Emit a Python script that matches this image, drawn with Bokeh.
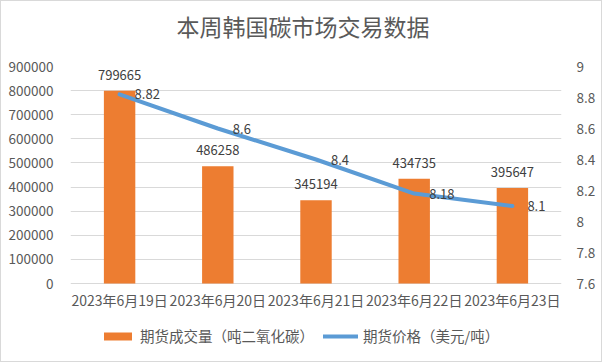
from bokeh.plotting import figure
from bokeh.models import (ColumnDataSource, LinearAxis, Range1d, FixedTicker,
                          CustomJSTickFormatter, NumeralTickFormatter, Legend,
                          LegendItem, FactorRange, Title)
from bokeh.core.properties import value
from bokeh.embed import file_html
from bokeh.resources import INLINE

title_text = "本周韩国碳市场交易数据"
dates = ["2023年6月19日", "2023年6月20日", "2023年6月21日", "2023年6月22日", "2023年6月23日"]
volume = [799665, 486258, 345194, 434735, 395647]
price = [8.82, 8.6, 8.4, 8.18, 8.1]
vol_ticks = [0, 100000, 200000, 300000, 400000, 500000, 600000, 700000, 800000, 900000]
price_ticks = [7.6, 7.8, 8.0, 8.2, 8.4, 8.6, 8.8, 9.0]
vol_name = "期货成交量（吨二氧化碳）"
price_name = "期货价格（美元/吨）"

FONT = "Noto Sans CJK SC"
GRAY = "#595959"
DARK = "#404040"

# layout (pixels)
W, H = 602, 362
TOP, LEFT, RIGHT = 65, 69, 42
PLOT_H = 217          # height of the value area (0 .. max)
EXTRA = H - TOP - PLOT_H  # room under the value area for category labels + legend
TITLE_SIZE = 23

vmin, vmax = vol_ticks[0], vol_ticks[-1]
pmin, pmax = price_ticks[0], price_ticks[-1]
v_low = vmin - (vmax - vmin) * EXTRA / PLOT_H
p_low = pmin - (pmax - pmin) * EXTRA / PLOT_H

src = ColumnDataSource(dict(
    date=dates, volume=volume, price=price,
    base=[vmin] * len(dates),
    vol_label=[str(v) for v in volume],
    price_label=[f"{v:g}" for v in price],
))

p = figure(width=W, height=H,
           x_range=FactorRange(*dates),
           y_range=Range1d(v_low, vmax),
           output_backend="svg", toolbar_location=None,
           min_border_left=LEFT, min_border_right=RIGHT,
           min_border_top=TOP, min_border_bottom=0)
p.extra_y_ranges = {"price": Range1d(p_low, pmax)}

# spacer then title (stacked outward from the frame)
spacer = Title(text=" ", text_font_size="7px", text_color="white")
p.add_layout(spacer, "above")
title_w = len(title_text) * TITLE_SIZE
main_title = Title(text=title_text, align="left", text_font=FONT,
                   text_font_size=f"{TITLE_SIZE}px", text_font_style="normal",
                   text_color=GRAY, offset=round(W / 2 - title_w / 2 - LEFT))
p.add_layout(main_title, "above")

p.outline_line_color = None
p.styles = {"border": "1px solid #d9d9d9", "box-sizing": "border-box"}

bars = p.vbar(x="date", top="volume", bottom="base", width=0.32, source=src,
              fill_color="#ED7D31", line_color=None)
line = p.line(x="date", y="price", y_range_name="price", source=src,
              line_color="#5B9BD5", line_width=4, line_cap="round", line_join="round")

p.text(x="date", y="volume", text="vol_label", source=src,
       text_align="center", text_baseline="bottom", y_offset=-11,
       text_font=value(FONT), text_font_size="13px", text_color=DARK)
p.text(x="date", y="price", text="price_label", source=src, y_range_name="price",
       text_align="left", text_baseline="middle", x_offset=15,
       text_font=value(FONT), text_font_size="13px", text_color=DARK)

# category labels under the baseline
p.text(x="date", y="base", text="date", source=src,
       text_align="center", text_baseline="middle", y_offset=16,
       text_font=value(FONT), text_font_size="14px", text_color=GRAY)

# grid
p.xgrid.grid_line_color = None
p.ygrid.ticker = FixedTicker(ticks=vol_ticks)
p.ygrid.grid_line_color = "#d9d9d9"
p.ygrid.grid_line_width = 1

p.xaxis.visible = False

# left axis
ly = p.yaxis[0]
ly.ticker = FixedTicker(ticks=vol_ticks)
ly.formatter = NumeralTickFormatter(format="0")
ly.axis_line_color = None
ly.major_tick_line_color = None
ly.minor_tick_line_color = None
ly.major_label_text_font = FONT
ly.major_label_text_font_size = "13.5px"
ly.major_label_text_color = GRAY
ly.major_label_standoff = 11

# right axis
ry = LinearAxis(y_range_name="price")
ry.ticker = FixedTicker(ticks=price_ticks)
ry.formatter = CustomJSTickFormatter(code="return String(Math.round(tick*10)/10);")
ry.axis_line_color = None
ry.major_tick_line_color = None
ry.minor_tick_line_color = None
ry.major_label_text_font = FONT
ry.major_label_text_font_size = "13.5px"
ry.major_label_text_color = GRAY
ry.major_label_standoff = 9
p.add_layout(ry, "right")

legend = Legend(items=[LegendItem(label=vol_name, renderers=[bars]),
                       LegendItem(label=price_name, renderers=[line])],
                orientation="horizontal", location=(30, 17))
legend.padding = 0
legend.margin = 0
legend.spacing = 9
legend.label_standoff = 5
legend.glyph_width = 35
legend.glyph_height = 10
legend.label_height = 16
legend.border_line_color = None
legend.background_fill_alpha = 0
legend.label_text_font = FONT
legend.label_text_font_size = "14.5px"
legend.label_text_color = GRAY
p.add_layout(legend, "center")

open("out.html", "w").write(file_html(p, INLINE))
